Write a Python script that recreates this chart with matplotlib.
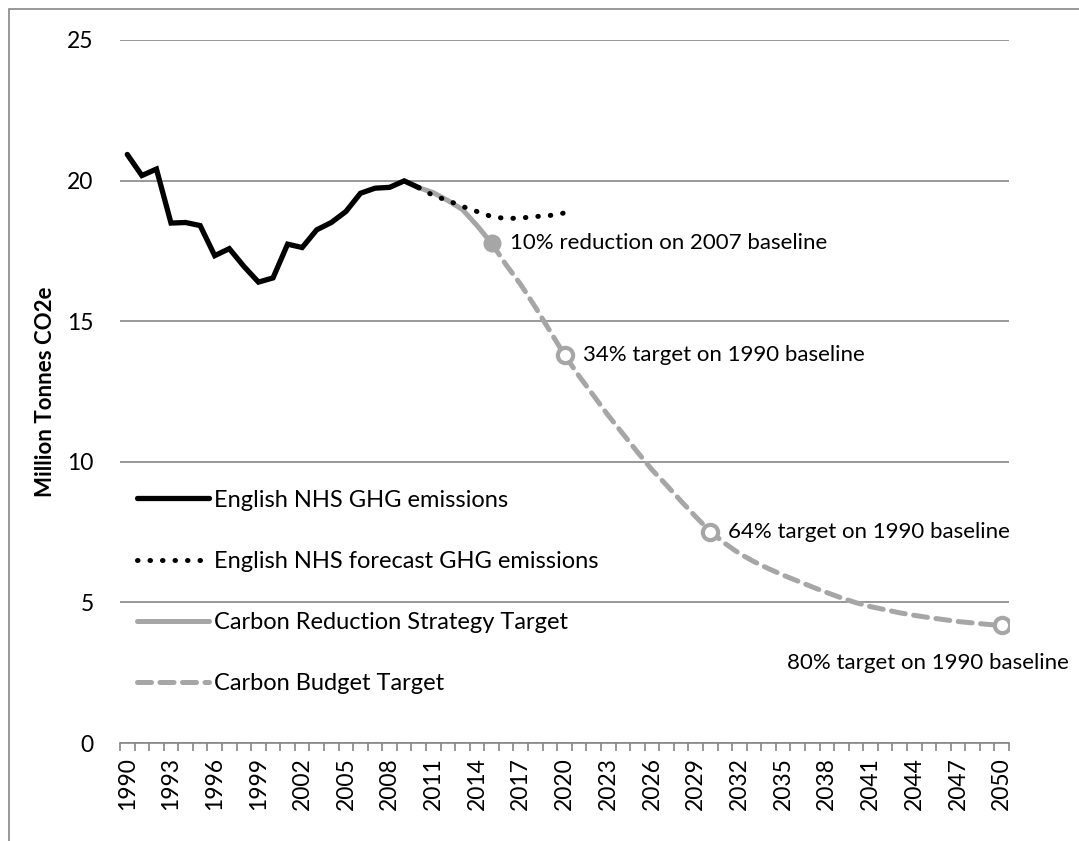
import numpy as np
import matplotlib
matplotlib.use("Agg")
import matplotlib.pyplot as plt
from matplotlib.patches import Rectangle

plt.rcParams["font.family"] = ["Lato", "DejaVu Sans"]

# historic emissions (million tonnes CO2e)
hist_years = list(range(1990, 2011))
hist_vals = [20.93, 20.18, 20.41, 18.49, 18.51, 18.40, 17.33, 17.58, 16.95, 16.39,
             16.54, 17.74, 17.62, 18.25, 18.51, 18.90, 19.55, 19.73, 19.76, 19.99, 19.75]

# forecast
fc_years = list(range(2010, 2021))
fc_vals = [19.75, 19.47, 19.29, 19.08, 18.90, 18.72, 18.65, 18.67, 18.72, 18.76, 18.85]

# carbon reduction strategy target
crs_years = list(range(2010, 2016))
crs_vals = [19.75, 19.57, 19.29, 18.97, 18.40, 17.77]

# carbon budget target
cb_years = list(range(2015, 2051))
cb_vals = [17.77, 17.00, 16.30, 15.50, 14.65, 13.80, 13.05, 12.35, 11.65, 11.00,
           10.35, 9.72, 9.17, 8.60, 8.05, 7.52, 7.10, 6.74, 6.45, 6.20,
           5.97, 5.76, 5.55, 5.35, 5.16, 4.99, 4.85, 4.74, 4.63, 4.54,
           4.46, 4.39, 4.32, 4.27, 4.22, 4.18]

target_years = [2020, 2030, 2050]
target_vals = [13.80, 7.52, 4.18]
target_labels = ["34% target on 1990 baseline", "64% target on 1990 baseline",
                 "80% target on 1990 baseline"]

GREY = "#A6A6A6"
GRID = "#868686"

fig = plt.figure(figsize=(10.79, 8.41), dpi=100)
ax = fig.add_axes([120 / 1079, 98 / 841, 889 / 1079, 703 / 841])

# outer chart border
fig.patches.append(Rectangle((9 / 1079, -0.1), 1.2, (841 - 9) / 841 + 0.1,
                             transform=fig.transFigure, fill=False,
                             edgecolor=GRID, linewidth=1.2))

ax.plot(cb_years, cb_vals, color=GREY, lw=3.6, ls=(0, (2.8, 1.7)),
        dash_capstyle="round", label="Carbon Budget Target", zorder=3)
ax.plot(crs_years, crs_vals, color=GREY, lw=3.6, solid_capstyle="round",
        label="Carbon Reduction Strategy Target", zorder=4)
ax.plot(fc_years, fc_vals, color="black", lw=3.6, ls=(0, (0.1, 2.4)),
        dash_capstyle="round", label="English NHS forecast GHG emissions", zorder=5)
ax.plot(hist_years, hist_vals, color="black", lw=3.8, solid_joinstyle="miter",
        solid_capstyle="round", label="English NHS GHG emissions", zorder=6)

ax.plot([crs_years[-1]], [crs_vals[-1]], "o", ms=12, color=GREY, zorder=7)
ax.plot(target_years, target_vals, "o", ms=11, mfc="white", mec=GREY, mew=3,
        ls="none", zorder=7)

fs = 16
ax.annotate("10% reduction on 2007 baseline", (crs_years[-1], crs_vals[-1]),
            xytext=(13, 0), textcoords="offset points", va="center", fontsize=fs)
ax.annotate(target_labels[0], (target_years[0], target_vals[0]),
            xytext=(13, 0), textcoords="offset points", va="center", fontsize=fs)
ax.annotate(target_labels[1], (target_years[1], target_vals[1]),
            xytext=(13, 0), textcoords="offset points", va="center", fontsize=fs)
ax.annotate(target_labels[2], (target_years[2], target_vals[2]),
            xytext=(48, -27), textcoords="offset points", va="center", ha="right",
            fontsize=fs)

ax.set_xlim(1989.5, 2050.5)
ax.set_ylim(0, 25)
ax.set_yticks([0, 5, 10, 15, 20, 25])
ax.yaxis.grid(True, color=GRID, lw=1.2)
ax.set_axisbelow(True)
for s in ["top", "right", "left"]:
    ax.spines[s].set_visible(False)
ax.spines["bottom"].set_color(GRID)
ax.spines["bottom"].set_linewidth(1.2)
ax.tick_params(axis="y", length=0, pad=19, labelsize=16.5)

label_years = list(range(1990, 2051, 3))
ax.set_xticks(label_years)
ax.set_xticklabels([str(y) for y in label_years], rotation=90, fontsize=16.5)
ax.set_xticks(np.arange(1989.5, 2051, 1), minor=True)
ax.tick_params(axis="x", which="major", length=0, pad=10)
ax.tick_params(axis="x", which="minor", length=6, width=1.2, color=GRID)

ax.set_ylabel("Million Tonnes CO2e", fontsize=16, fontweight="bold", labelpad=8)

handles, labels = ax.get_legend_handles_labels()
order = [3, 2, 1, 0]
ax.legend([handles[i] for i in order], [labels[i] for i in order],
          loc="center left", bbox_to_anchor=(0.0, 0.215), frameon=False,
          fontsize=17, handlelength=3.05, handletextpad=0.25, labelspacing=1.7,
          borderaxespad=0.3)

fig.savefig("out.png", dpi=100)
